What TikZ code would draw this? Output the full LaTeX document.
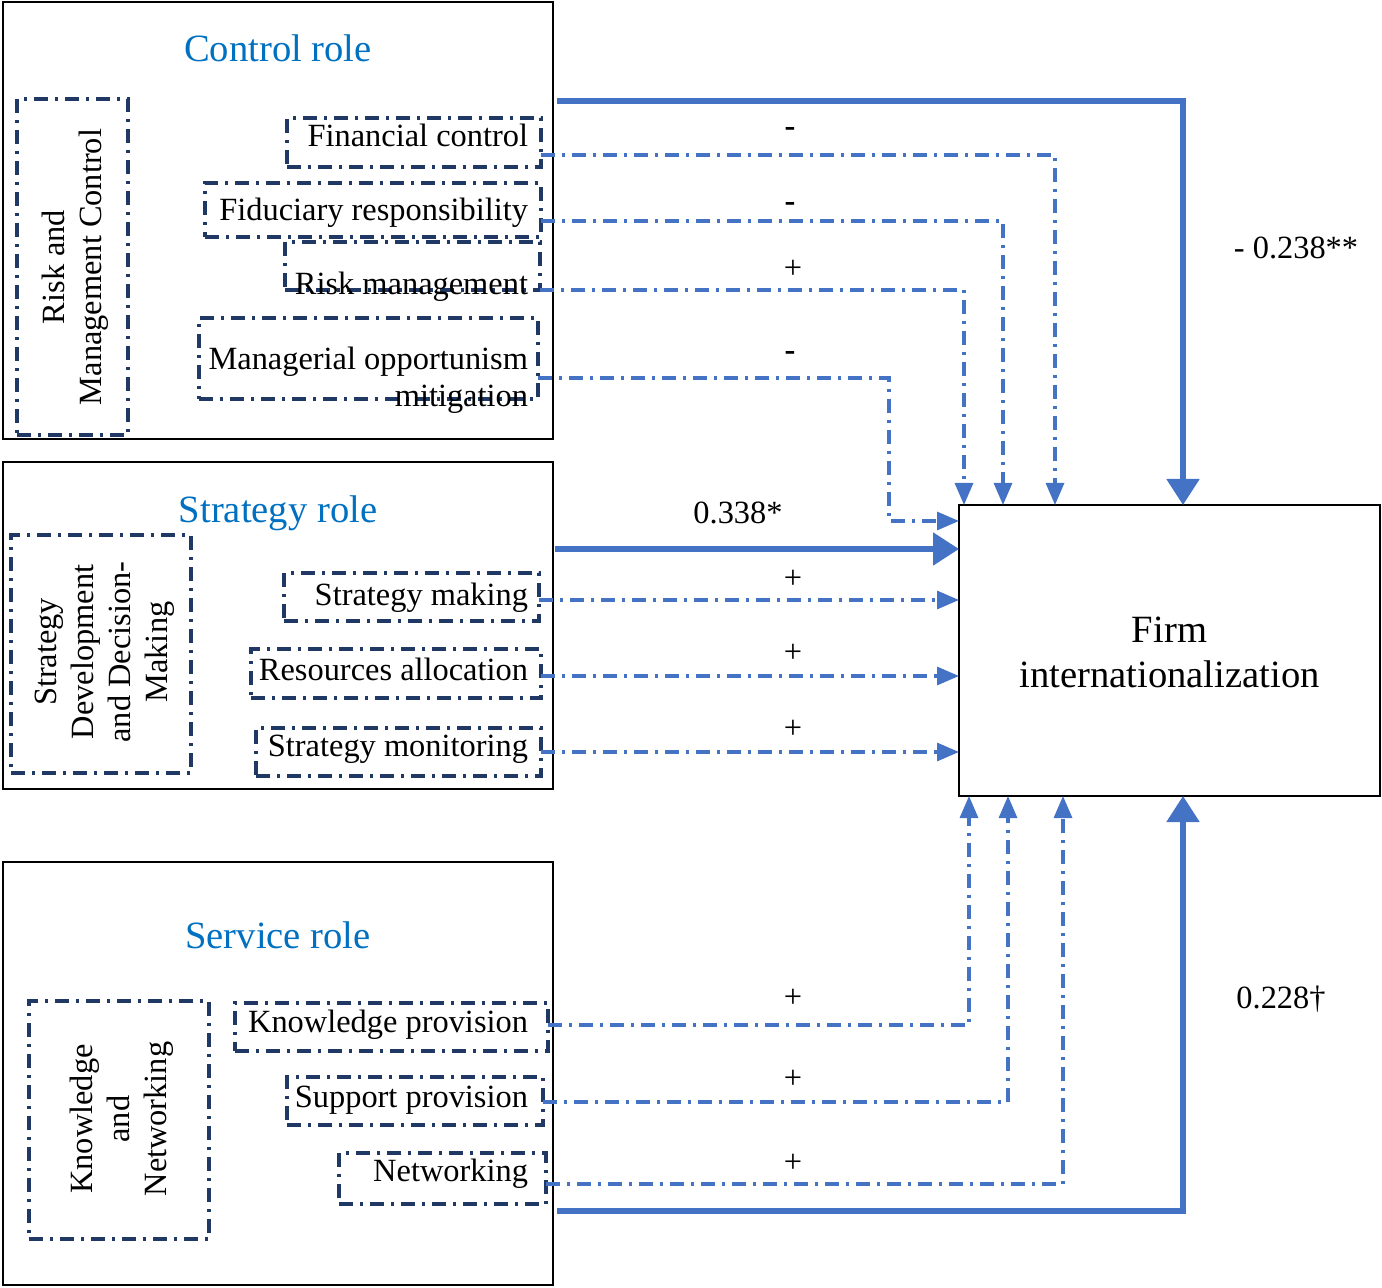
\documentclass[tikz,border=0pt]{standalone}
\usepackage{fontspec}
\setmainfont{Liberation Serif}
\usetikzlibrary{arrows.meta,fit}
\definecolor{lineblue}{HTML}{4472C4}
\definecolor{titleblue}{HTML}{0070C0}
\definecolor{navy}{HTML}{1F3864}
\tikzset{
  bigbox/.style={draw=black, line width=1.4pt, inner sep=0pt, outer sep=0pt},
  dbox/.style={draw=navy, line width=1.6pt, inner sep=0pt, outer sep=0pt,
    dash pattern=on 7pt off 3.5pt on 1.5pt off 3.5pt},
  body/.style={font=\fontsize{16.2}{18.5}\selectfont, inner sep=0pt, outer sep=0pt},
  title/.style={font=\fontsize{19.3}{22}\selectfont, text=titleblue, inner sep=0pt, anchor=base},
  itemtext/.style={body, anchor=base east, align=right},
  vtext/.style={body, rotate=90, align=center},
  firmtext/.style={font=\fontsize{19.3}{22.5}\selectfont, inner sep=0pt, align=center},
  link/.style={draw=lineblue, line width=1.6pt,
    dash pattern=on 7pt off 3.5pt on 1.5pt off 3.5pt,
    -{Triangle[length=11pt,width=9pt]}},
  strong/.style={draw=lineblue, line width=2.6pt, -{Triangle[length=13pt,width=16pt]}},
  sign/.style={body},
  coef/.style={body, anchor=base},
}
\begin{document}
\begin{tikzpicture}[x=0.5pt,y=-0.5pt]
\useasboundingbox (0,0) rectangle (1382,1288);

% main boxes
\node[bigbox, fit={(3,2) (553,439)}] (ctrl) {};
\node[bigbox, fit={(3,462) (553,789)}] (strat) {};
\node[bigbox, fit={(3,862) (553,1285)}] (serv) {};
\node[bigbox, fit={(959,505) (1380,796)}] (firm) {};
\node[firmtext] (firmlabel) at (1169.5,652) {Firm\\internationalization};

% titles
\node[title] (tctrl) at (278,62) {Control role};
\node[title] (tstrat) at (278,523) {Strategy role};
\node[title] (tserv) at (278,948) {Service role};

% group boxes
\node[dbox, fit={(17,99) (128,435)}] (rmcbox) {};
\node[vtext] (rmc) at (75,267) {Risk and\\Management Control};
\node[dbox, fit={(11,535) (191,773)}] (sddmbox) {};
\node[vtext] (sddm) at (105,652) {Strategy\\Development\\and Decision-\\Making};
\node[dbox, fit={(29,1001) (209,1239)}] (knbox) {};
\node[vtext] (kn) at (122,1119) {Knowledge\\and\\Networking};

% control items
\node[dbox, fit={(287,118) (541,167)}] (fc) {};
\node[itemtext] (fct) at (528,147) {Financial control};
\node[dbox, fit={(205,183) (541,237)}] (fr) {};
\node[itemtext] (frt) at (528,221) {Fiduciary responsibility};
\node[dbox, fit={(285,242) (540,290)}] (rm) {};
\node[itemtext] (rmt) at (528,295) {Risk management};
\node[dbox, fit={(199,318) (538,399)}] (mo) {};
\node[itemtext] (mot) at (528,407) {Managerial opportunism\\mitigation};

% strategy items
\node[dbox, fit={(284,573) (539,621)}] (sm) {};
\node[itemtext] (smt) at (528,606) {Strategy making};
\node[dbox, fit={(251,649) (541,698)}] (ra) {};
\node[itemtext] (rat) at (528,681) {Resources allocation};
\node[dbox, fit={(256,728) (541,776)}] (smo) {};
\node[itemtext] (smot) at (528,756) {Strategy monitoring};

% service items
\node[dbox, fit={(235,1003) (548,1051)}] (kp) {};
\node[itemtext] (kpt) at (528,1032) {Knowledge provision};
\node[dbox, fit={(287,1077) (543,1125)}] (sp) {};
\node[itemtext] (spt) at (528,1107) {Support provision};
\node[dbox, fit={(339,1153) (546,1204)}] (nw) {};
\node[itemtext] (nwt) at (528,1181) {Networking};

% connectors: control
\draw[strong, shorten <=2pt] (ctrl.east |- 0,101) -| (1183,0 |- firm.north);
\draw[link] (fc.east |- 0,155) -| (1055,0 |- firm.north);
\draw[link] (fr.east |- 0,221) -| (1003,0 |- firm.north);
\draw[link] (rm.east |- 0,290) -| (964,0 |- firm.north);
\draw[link] (mo.east |- 0,378) -| (889,521) -- (firm.west |- 0,521);

% connectors: strategy
\draw[strong, shorten <=1pt] (strat.east |- 0,549) -- (firm.west |- 0,549);
\draw[link] (sm.east |- 0,600) -- (firm.west |- 0,600);
\draw[link] (ra.east |- 0,676) -- (firm.west |- 0,676);
\draw[link] (smo.east |- 0,752) -- (firm.west |- 0,752);

% connectors: service
\draw[link] (kp.east |- 0,1025) -| (969,0 |- firm.south);
\draw[link] (sp.east |- 0,1102) -| (1008,0 |- firm.south);
\draw[link] (nw.east |- 0,1184) -| (1063,0 |- firm.south);
\draw[strong, shorten <=2pt] (serv.east |- 0,1211) -| (1183,0 |- firm.south);

% signs
\node[sign] (s1) at (790,132) {\textbf{-}};
\node[sign] (s2) at (790,207) {\textbf{-}};
\node[sign] (s3) at (793,269) {+};
\node[sign] (s4) at (790,356) {\textbf{-}};
\node[sign] (s5) at (793,579) {+};
\node[sign] (s6) at (793,653) {+};
\node[sign] (s7) at (793,729) {+};
\node[sign] (s8) at (793,998) {+};
\node[sign] (s9) at (793,1079) {+};
\node[sign] (s10) at (793,1163) {+};

% coefficients
\node[coef] (c1) at (1296,259) {- 0.238**};
\node[coef] (c2) at (738,524) {0.338*};
\node[coef] (c3) at (1281,1008) {0.228†};
\end{tikzpicture}
\end{document}
